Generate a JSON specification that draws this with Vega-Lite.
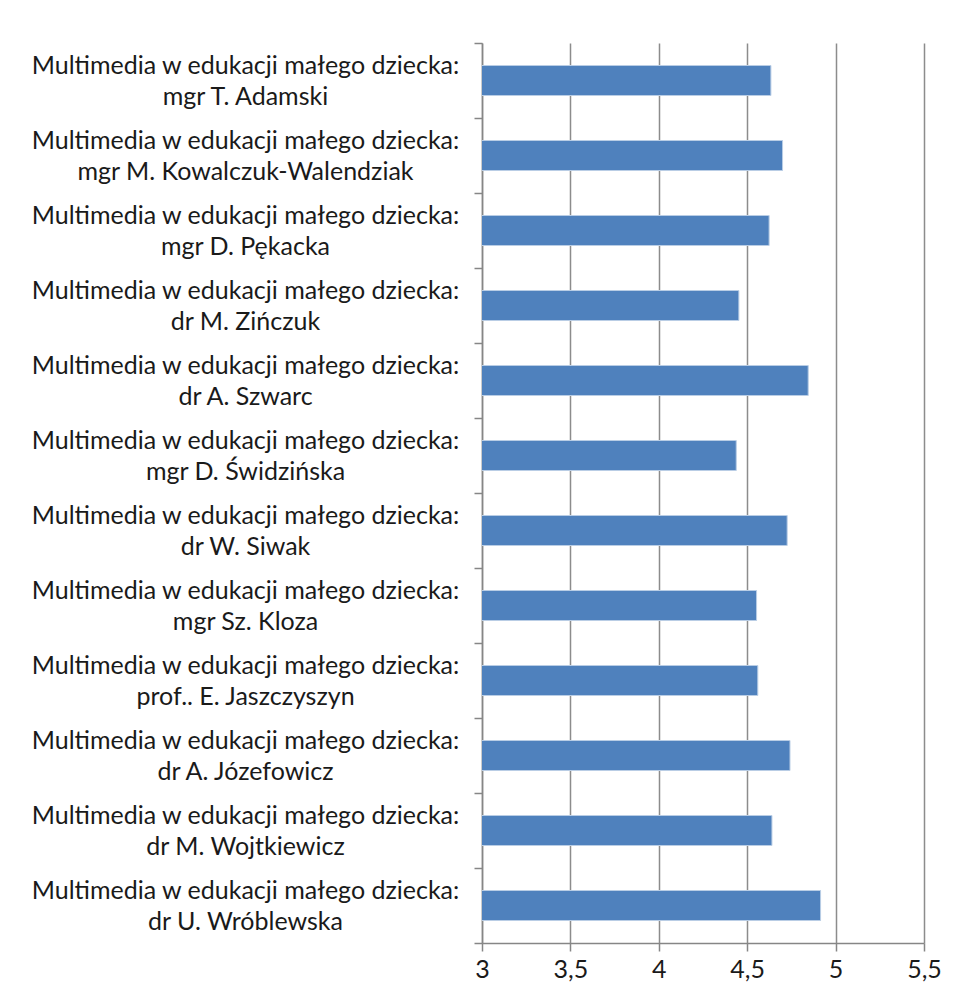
{
  "$schema": "https://vega.github.io/schema/vega-lite/v6.json",
  "autosize": {"type": "none"},
  "padding": {"left": 482, "top": 43, "right": 31, "bottom": 58},
  "width": 442,
  "height": 900,
  "background": "white",
  "data": {
    "values": [
      {"course": "Multimedia w edukacji małego dziecka:|mgr T. Adamski", "score": 4.634},
      {"course": "Multimedia w edukacji małego dziecka:|mgr M. Kowalczuk-Walendziak", "score": 4.70},
      {"course": "Multimedia w edukacji małego dziecka:|mgr D. Pękacka", "score": 4.624},
      {"course": "Multimedia w edukacji małego dziecka:|dr M. Zińczuk", "score": 4.453},
      {"course": "Multimedia w edukacji małego dziecka: |dr A. Szwarc", "score": 4.845},
      {"course": "Multimedia w edukacji małego dziecka:|mgr D. Świdzińska", "score": 4.438},
      {"course": "Multimedia w edukacji małego dziecka:|dr W. Siwak", "score": 4.726},
      {"course": "Multimedia w edukacji małego dziecka:|mgr Sz. Kloza", "score": 4.553},
      {"course": "Multimedia w edukacji małego dziecka:|prof.. E. Jaszczyszyn", "score": 4.56},
      {"course": "Multimedia w edukacji małego dziecka:|dr A. Józefowicz", "score": 4.742},
      {"course": "Multimedia w edukacji małego dziecka:|dr M. Wojtkiewicz", "score": 4.64},
      {"course": "Multimedia w edukacji małego dziecka:|dr U. Wróblewska", "score": 4.915}
    ]
  },
  "mark": {"type": "bar", "color": "#4F81BD", "stroke": "#B9CDE5", "strokeWidth": 1, "clip": true, "height": {"band": 0.4}},
  "encoding": {
    "y": {
      "field": "course",
      "type": "nominal",
      "sort": null,
      "scale": {"paddingInner": 0, "paddingOuter": 0},
      "axis": {
        "title": null,
        "labelExpr": "split(datum.label, '|')",
        "labelAlign": "center",
        "labelBaseline": "middle",
        "labelPadding": 229,
        "labelOffset": -15.5,
        "labelLineHeight": 31,
        "labelFont": "Lato",
        "labelFontSize": 25,
        "labelColor": "#1a1a1a",
        "labelLimit": 0,
        "tickBand": "extent",
        "tickSize": 8,
        "tickColor": "#868686",
        "domainColor": "#868686",
        "domainWidth": 1.5,
        "tickWidth": 1.5,
        "grid": false
      }
    },
    "x": {
      "field": "score",
      "type": "quantitative",
      "scale": {"domain": [3, 5.5], "zero": false, "nice": false},
      "axis": {
        "title": null,
        "values": [3, 3.5, 4, 4.5, 5, 5.5],
        "labelExpr": "replace(format(datum.value, '.1~f'), '.', ',')",
        "labelFont": "Lato",
        "labelFontSize": 25,
        "labelColor": "#1a1a1a",
        "labelPadding": 6,
        "labelFlush": false,
        "tickSize": 8,
        "tickColor": "#868686",
        "domainColor": "#868686",
        "domainWidth": 1.5,
        "tickWidth": 1.5,
        "grid": true,
        "gridColor": "#8c8c8c",
        "gridWidth": 1.5,
        "gridOpacity": 1
      }
    }
  },
  "config": {"view": {"stroke": null}}
}
